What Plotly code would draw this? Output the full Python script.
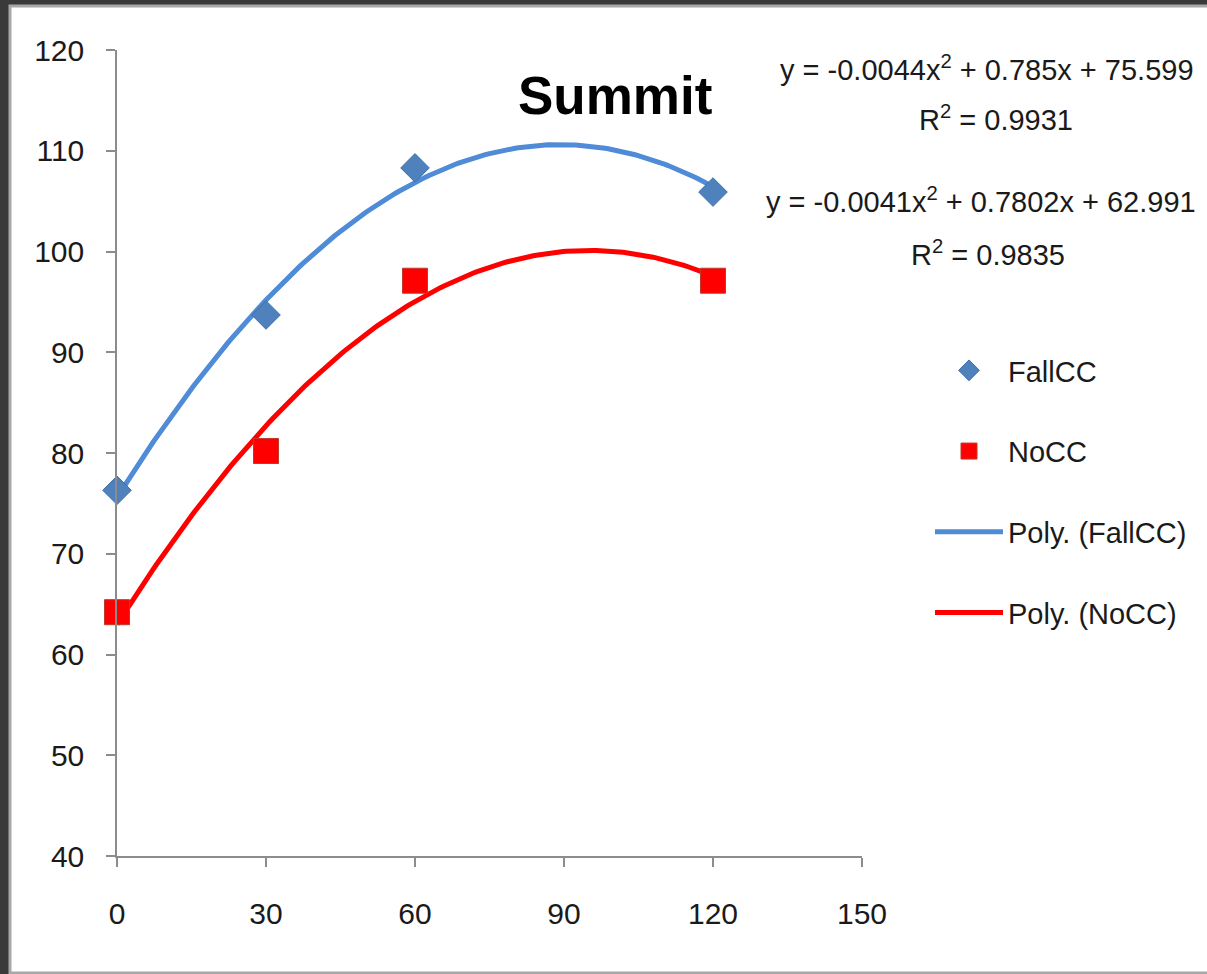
import numpy as np
import plotly.graph_objects as go

# ---- data ----
x_rates = [0, 30, 60, 120]
fallcc = [76.3, 93.7, 108.3, 105.9]
nocc = [64.2, 80.2, 97.1, 97.1]
fall_coef = [-0.0044, 0.785, 75.599]
nocc_coef = [-0.0041, 0.7802, 62.991]
fall_r2 = 0.9931
nocc_r2 = 0.9835
x_ticks = [0, 30, 60, 90, 120, 150]
y_ticks = [40, 50, 60, 70, 80, 90, 100, 110, 120]

W, H = 1207, 974
L, R, T, B = 117, 862, 50, 856  # plot area in px

def px(xp):
    return (xp - L) / (R - L)

def py(yp):
    return (B - yp) / (B - T)

FONT = "Liberation Sans, Arial, sans-serif"
BLUE_LINE = "#4f8bd6"
BLUE_MARK = "#4f81bd"
RED = "#ff0000"
TXT = "#1a1a1a"

xc = np.linspace(0, 120, 200)
fall_curve = np.polyval(fall_coef, xc)
nocc_curve = np.polyval(nocc_coef, xc)

fig = go.Figure()
fig.add_trace(go.Scatter(x=xc, y=fall_curve, mode="lines", name="Poly. (FallCC)",
                         line=dict(color=BLUE_LINE, width=5), legendgroup="c", legendrank=3,
                         cliponaxis=False))
fig.add_trace(go.Scatter(x=xc, y=nocc_curve, mode="lines", name="Poly. (NoCC)",
                         line=dict(color=RED, width=5), legendgroup="d", legendrank=4,
                         cliponaxis=False))
fig.add_trace(go.Scatter(x=x_rates, y=fallcc, mode="markers", name="FallCC",
                         marker=dict(symbol="diamond", size=22, color=BLUE_MARK,
                                     line=dict(color="#3f6fa8", width=1)),
                         legendgroup="a", legendrank=1, cliponaxis=False))
fig.add_trace(go.Scatter(x=x_rates, y=nocc, mode="markers", name="NoCC",
                         marker=dict(symbol="square", size=25, color=RED,
                                     line=dict(color="#c0392b", width=1)),
                         legendgroup="b", legendrank=2, cliponaxis=False))

def fmt_eq(c):
    a, b, k = c
    return f"y = {a}x<sup>2</sup> + {b}x + {k}"

ann = [
    dict(text="<b>Summit</b>", x=px(615), y=py(95), xanchor="center", yanchor="middle",
         font=dict(size=53, color="#000", family=FONT)),
    dict(text=fmt_eq(fall_coef), x=px(778), y=py(68), xanchor="left", yanchor="middle",
         font=dict(size=29, color=TXT, family=FONT)),
    dict(text=f"R<sup>2</sup> = {fall_r2}", x=px(996), y=py(118), xanchor="center", yanchor="middle",
         font=dict(size=29, color=TXT, family=FONT)),
    dict(text=fmt_eq(nocc_coef), x=px(764), y=py(200), xanchor="left", yanchor="middle",
         font=dict(size=29, color=TXT, family=FONT)),
    dict(text=f"R<sup>2</sup> = {nocc_r2}", x=px(988), y=py(253), xanchor="center", yanchor="middle",
         font=dict(size=29, color=TXT, family=FONT)),
]
for a in ann:
    a.update(xref="paper", yref="paper", showarrow=False)

shapes = [
    dict(type="rect", xref="paper", yref="paper", layer="below",
         x0=px(10), x1=px(1240), y0=py(6), y1=py(973),
         fillcolor="white", line=dict(color="#a8a8a8", width=3)),
]

fig.update_layout(
    width=W, height=H,
    margin=dict(l=L, r=W - R, t=T, b=H - B),
    paper_bgcolor="#3a3a3a", plot_bgcolor="rgba(0,0,0,0)",
    font=dict(family=FONT, size=30, color=TXT),
    showlegend=True,
    legend=dict(x=px(930), y=py(345), xanchor="left", yanchor="top",
                font=dict(size=29, color=TXT, family=FONT),
                bgcolor="rgba(0,0,0,0)", traceorder="grouped", tracegroupgap=40,
                itemwidth=68),
    annotations=ann, shapes=shapes,
)
fig.update_xaxes(range=[0, 150], tickvals=x_ticks, showgrid=False, zeroline=False,
                 showline=True, linecolor="#8c8c8c", linewidth=1.5,
                 ticks="outside", ticklen=9, tickcolor="#8c8c8c", tickwidth=1.5,
                 ticklabelstandoff=21, tickfont=dict(size=30, color=TXT))
fig.update_yaxes(range=[40, 120], tickvals=y_ticks, showgrid=False, zeroline=False,
                 showline=True, linecolor="#8c8c8c", linewidth=1.5,
                 ticks="outside", ticklen=9, tickcolor="#8c8c8c", tickwidth=1.5,
                 ticklabelstandoff=16, tickfont=dict(size=30, color=TXT))

fig.write_html("out.html", config={"displayModeBar": False},
               post_script="document.body.style.margin='0px';")
